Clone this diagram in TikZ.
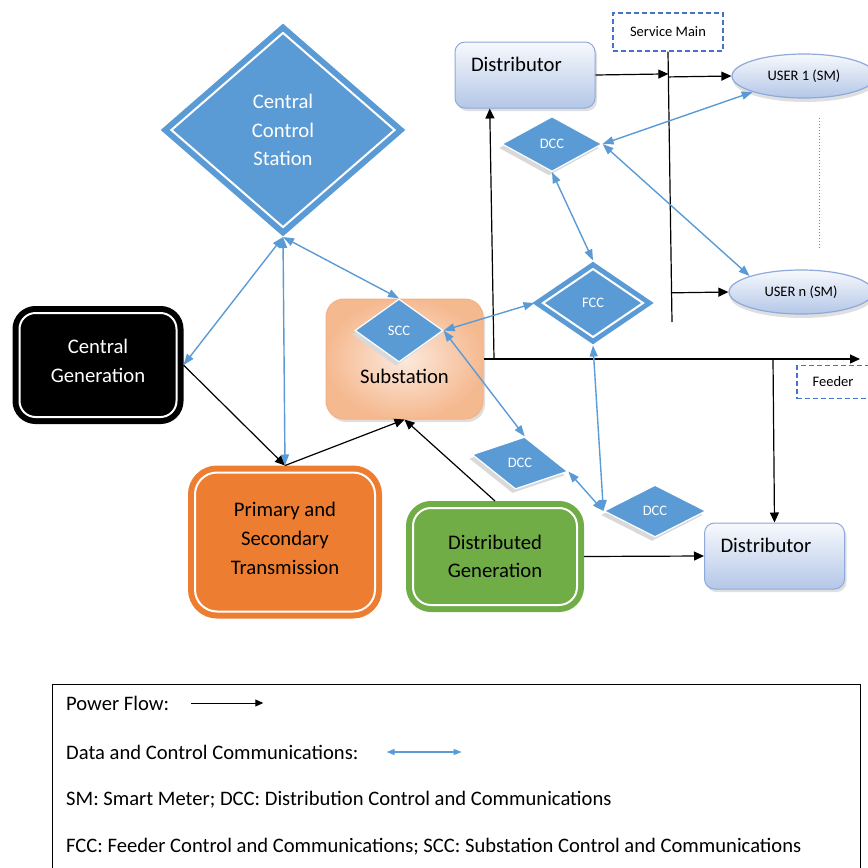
\documentclass[tikz,border=0pt]{standalone}
\usepackage{fontspec}
\setmainfont{Carlito}
\usetikzlibrary{shapes.geometric, arrows.meta, positioning, shadows, calc}

\definecolor{ctrlblue}{HTML}{5B9BD5}
\definecolor{genorange}{HTML}{ED7D31}
\definecolor{gengreen}{HTML}{70AD47}
\definecolor{distedge}{HTML}{8EA9DB}
\definecolor{disttop}{HTML}{F7F9FD}
\definecolor{distbottom}{HTML}{B4C7E7}
\definecolor{subdark}{HTML}{F4B183}
\definecolor{sublight}{HTML}{FCE9DD}
\definecolor{tagblue}{HTML}{4472C4}

\newcommand{\boxfont}{\fontsize{20.7}{28.7}\selectfont}
\newcommand{\tagfont}{\fontsize{14.5}{17}\selectfont}
\newcommand{\legfont}{\fontsize{20.6}{24}\selectfont}

\begin{document}
\begin{tikzpicture}[x=1pt, y=1pt, node distance=100pt]

        \useasboundingbox (0,0) rectangle (868,-868);

        % Define styles for each type of node
        \tikzstyle{ctrlbox} = [diamond, inner sep=0pt, minimum width=229pt, minimum height=200pt, align=center, text=white, font=\boxfont, fill=ctrlblue, draw=ctrlblue, double=white, double distance=2pt, line width=6pt, outer sep=7pt]
        \tikzstyle{ccbox} = [diamond, inner sep=0pt, minimum width=100pt, minimum height=55pt, text=white, font=\tagfont, fill=ctrlblue, draw=white, line width=1.2pt, general shadow={fill=gray!30, shadow xshift=-3pt, shadow yshift=-4pt}]
        \tikzstyle{genbox} = [rectangle, rounded corners=16pt, align=center, font=\boxfont, double=white, double distance=2pt, line width=6pt, outer sep=7pt]
        \tikzstyle{subbox} = [rectangle, rounded corners=18pt, minimum width=157pt, inner sep=4pt, text height=80pt, text depth=32pt, font=\boxfont, draw=subdark, line width=1pt, inner color=sublight, outer color=subdark!85!sublight, drop shadow={opacity=0.25, shadow xshift=2pt, shadow yshift=-3pt}]
        \tikzstyle{distbox} = [rectangle, rounded corners=10pt, text width=108pt, inner xsep=16pt, inner ysep=4pt, text height=25pt, text depth=33pt, align=left, font=\boxfont, draw=distedge, line width=1pt, top color=disttop, bottom color=distbottom, drop shadow={opacity=0.25, shadow xshift=2pt, shadow yshift=-3pt}]
        \tikzstyle{userbox} = [ellipse, inner sep=0pt, minimum width=144pt, minimum height=44pt, font=\tagfont, draw=distedge, line width=1.2pt, top color=disttop, bottom color=distbottom, drop shadow={opacity=0.25, shadow xshift=1pt, shadow yshift=-4pt}]
        \tikzstyle{tagbox} = [rectangle, minimum width=110pt, minimum height=38pt, font=\tagfont, draw=tagblue, line width=1.3pt, dash pattern=on 5pt off 3pt]
        \tikzstyle{legendbox} = [rectangle, inner sep=0pt, minimum width=808pt, minimum height=200pt, draw=black, line width=1pt]
        \tikzstyle{legendtext} = [anchor=west, inner sep=0pt, font=\legfont]

        % Define arrow styles
        \tikzstyle{powerflow} = [line width=1.2pt, -{Triangle[length=10pt, width=9pt]}]
        \tikzstyle{dataflow} = [line width=1.4pt, draw=ctrlblue, {Triangle[length=11pt, width=8pt]}-{Triangle[length=11pt, width=8pt]}]

        % Nodes
        \node (ccs) [ctrlbox] at (283,-130) {Central\\Control\\Station};
        \node (cgen) [genbox, fill=black, draw=black, text=white, minimum width=157pt, minimum height=104pt, text depth=8pt, below of=ccs, xshift=-185pt, yshift=-135pt] {Central\\Generation};
        \node (trans) [genbox, fill=genorange, draw=genorange, minimum width=180pt, minimum height=139pt, rounded corners=22pt, text depth=7pt, below of=cgen, xshift=187pt, yshift=-77pt] {Primary and\\Secondary\\Transmission};
        \node (subst) [subbox, right of=cgen, xshift=206.5pt, yshift=6pt] {Substation};
        \node (scc) [ccbox, minimum width=88pt, minimum height=63pt, above of=subst, xshift=-5.5pt, yshift=-71.5pt] {SCC};
        \node (dgen) [genbox, fill=gengreen, draw=gengreen, minimum width=164pt, minimum height=97pt, rounded corners=18pt, below of=subst, xshift=90.5pt, yshift=-97.5pt] {Distributed\\Generation};

        % Distribution side
        \node (distA) [distbox, right of=ccs, xshift=142pt, yshift=55pt] {Distributor};
        \node (sm) [tagbox, right of=distA, xshift=43pt, yshift=43pt] {Service Main};
        \node (dccT) [ccbox, below of=distA, xshift=27pt, yshift=31pt] {DCC};
        \node (fcc) [ctrlbox, minimum width=105pt, minimum height=73pt, line width=5pt, outer sep=6pt, font=\tagfont, below of=dccT, xshift=41pt, yshift=-59pt] {FCC};
        \node (user1) [userbox, right of=sm, xshift=36pt, yshift=-44pt] {USER 1 (SM)};
        \node (usern) [userbox, below of=user1, xshift=-3pt, yshift=-116pt] {USER n (SM)};
        \node (feeder) [tagbox, minimum width=72pt, minimum height=33pt, below of=usern, xshift=32pt, yshift=10pt] {Feeder};
        \node (dccL) [ccbox, minimum width=97pt, minimum height=53pt, below of=fcc, xshift=-73pt, yshift=-60pt, rotate=-10] {\rotatebox{10}{DCC}};
        \node (dccR) [ccbox, minimum width=102pt, minimum height=52pt, right of=dccL, xshift=35pt, yshift=-48pt] {DCC};
        \node (distB) [distbox, right of=dgen, xshift=179.5pt, yshift=0.5pt] {Distributor};

        % Line ends
        \coordinate (smEnd) at (672,-322);
        \coordinate (feedEnd) at (860,-359);
        \coordinate (feedA) at (494,-359);
        \coordinate (feedB) at (773,-359);

        % Power flow
        \draw [powerflow] (cgen.east) -- (trans.north);
        \draw [powerflow] (trans.north) -- (subst.south);
        \draw [powerflow] (dgen.north) -- (subst.south);
        \draw [powerflow] (dgen.east) -- (distB.west);
        \draw [powerflow] (subst.east) -- (feedEnd);
        \draw [powerflow] (feedA) -- ($(distA.south west)!0.25!(distA.south east)$);
        \draw [powerflow] (feedB) -- (distB.north);
        \draw [line width=1.2pt] (sm.south) -- (smEnd);
        \draw [powerflow] (distA.east) -- ($(sm.south)!(distA.east)!(smEnd)$);
        \draw [powerflow] ($(sm.south)!(user1.west)!(smEnd)$) -- (user1.west);
        \draw [powerflow] ($(sm.south)!(usern.west)!(smEnd)$) -- (usern.west);
        \draw [gray, dotted, line width=1pt] (819,-118) -- (819,-248);

        % Data and control communications
        \draw [dataflow] (ccs.south) -- (cgen.east);
        \draw [dataflow] (ccs.south) -- (trans.north);
        \draw [dataflow] (ccs.south) -- (scc.north);
        \draw [dataflow] (scc.east) -- (fcc.west);
        \draw [dataflow] (scc.east) -- (dccL.north);
        \draw [dataflow] (dccT.south) -- (fcc.north);
        \draw [dataflow] (dccT.east) -- (user1.south west);
        \draw [dataflow] (dccT.east) -- (usern.north west);
        \draw [dataflow] (fcc.south) -- (dccR.west);
        \draw [dataflow] (dccL.east) -- (dccR.west);

        % Legend
        \node (legend) [legendbox, anchor=north west] at (52,-684) {};
        \node (lgPower) [legendtext] at ([xshift=14pt, yshift=-19pt]legend.north west) {Power Flow:};
        \node (lgData) [legendtext] at ([yshift=-49pt]lgPower.west) {Data and Control Communications:};
        \node (lgSM) [legendtext] at ([yshift=-48pt]lgData.west) {SM: Smart Meter; DCC: Distribution Control and Communications};
        \node (lgFCC) [legendtext] at ([yshift=-47pt]lgSM.west) {FCC: Feeder Control and Communications; SCC: Substation Control and Communications};
        \draw [powerflow, line width=1pt, -{Triangle[length=8pt, width=7pt]}] ([xshift=22pt]lgPower.east) -- ++(72pt,0);
        \draw [dataflow, line width=1.2pt, {Triangle[length=8pt, width=6pt]}-{Triangle[length=8pt, width=6pt]}] ([xshift=28pt]lgData.east) -- ++(75pt,0);

    \end{tikzpicture}
\end{document}
